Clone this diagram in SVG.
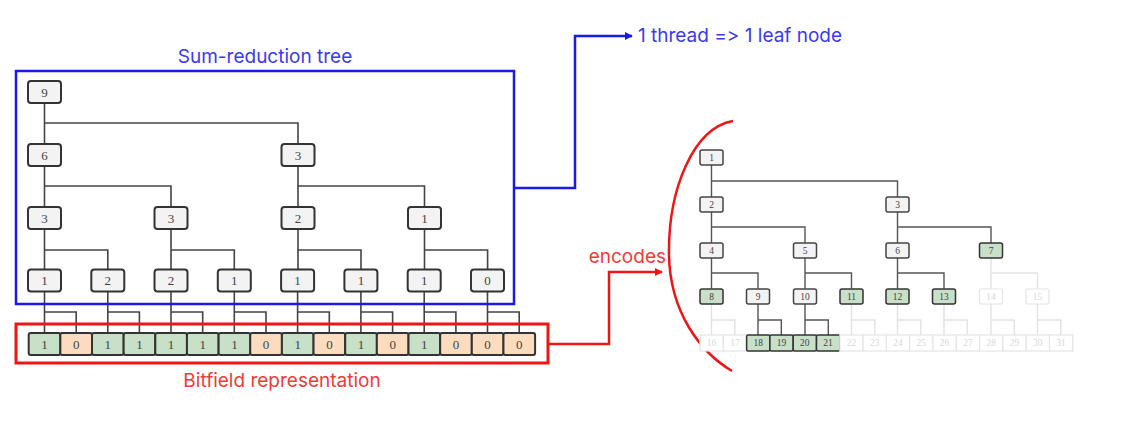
<svg xmlns="http://www.w3.org/2000/svg" width="1121" height="427" viewBox="0 0 1121 427">
<style>
.bg{fill:#fff}
.ln{stroke:#444;stroke-width:1.6;fill:none}
.lnr{stroke:#555;stroke-width:1.4;fill:none}
.fd{stroke:#e2e2e2;stroke-width:1.4;fill:none}
.n{fill:#f3f3f3;stroke:#333;stroke-width:2}
.g{fill:#c8dfc8;stroke:#333;stroke-width:2}
.o{fill:#fcdcbf;stroke:#333;stroke-width:2}
.sn{fill:#f3f3f3;stroke:#444;stroke-width:1.5}
.sg{fill:#c8dfc8;stroke:#333;stroke-width:1.5}
.sf{fill:#fff;stroke:#e4e4e4;stroke-width:1.2}
.t{font-family:"Liberation Serif","DejaVu Serif",serif;font-size:13px;fill:#444;text-anchor:middle;dominant-baseline:central}
.ts{font-family:"Liberation Serif","DejaVu Serif",serif;font-size:9.5px;fill:#444;text-anchor:middle;dominant-baseline:central}
.tf{font-family:"Liberation Serif","DejaVu Serif",serif;font-size:9.5px;fill:#d8d8d8;text-anchor:middle;dominant-baseline:central}
.lab{font-family:Inter,"Liberation Sans",sans-serif;font-size:19px;font-variant-ligatures:none;font-feature-settings:"calt" 0,"liga" 0}
</style>
<defs>
<marker id="ab" viewBox="0 0 10 10" refX="9" refY="5" markerWidth="3.2" markerHeight="3.2" orient="auto" markerUnits="strokeWidth"><path d="M0,0 L10,5 L0,10 z" fill="#1a1ae6"/></marker>
<marker id="ar" viewBox="0 0 10 10" refX="9" refY="5" markerWidth="3.2" markerHeight="3.2" orient="auto" markerUnits="strokeWidth"><path d="M0,0 L10,5 L0,10 z" fill="#f01515"/></marker>
</defs>
<rect class="bg" width="1121" height="427"/>

<g id="connectors">
<path class="ln" d="M44.5,103V144 M44.5,123H298V144"/>
<path class="ln" d="M44.5,166V207 M44.5,186H171V207 M298,166V207 M298,186H424.5V207"/>
<path class="ln" d="M44.5,229V269.5 M44.5,250H107.8V269.5 M171,229V269.5 M171,250H234.3V269.5 M298,229V269.5 M298,250H361V269.5 M424.5,229V269.5 M424.5,250H487.6V269.5"/>
<path class="ln" d="M44.5,291.5V333 M44.5,312H76.2V333 M107.8,291.5V333 M107.8,312H139.4V333 M171,291.5V333 M171,312H202.7V333 M234.3,291.5V333 M234.3,312H266V333 M297.6,291.5V333 M297.6,312H329.3V333 M360.9,291.5V333 M360.9,312H392.6V333 M424.2,291.5V333 M424.2,312H455.9V333 M487.5,291.5V333 M487.5,312H519.2V333"/>
<path class="lnr" d="M711.5,165V197 M711.5,181H897.5V197"/>
<path class="lnr" d="M711.5,212V243 M711.5,227H805V243 M897.5,212V243 M897.5,227H991V243"/>
<path class="lnr" d="M711.5,258V288.5 M805,258V288.5 M805,273H851.5V288.5 M897.5,258V288.5 M897.5,273H944V288.5 M711.5,273H758V288.5"/>
<path class="fd" d="M991,258V288.5 M991,273H1037.5V288.5"/>
<path class="fd" d="M711.5,304V335 M711.5,320H734.8V335 M851.5,304V335 M851.5,320H874.8V335 M897.5,304V335 M897.5,320H920.8V335 M944,304V335 M944,320H967.3V335 M991,304V335 M991,320H1014.3V335 M1037.5,304V335 M1037.5,320H1060.8V335"/>
<path class="lnr" d="M758,304V335 M758,320H781.3V335 M805,304V335 M805,320H828.3V335"/>
<polyline points="514,188 575,188 575,36 632,36" fill="none" stroke="#1a1ae6" stroke-width="2.5" marker-end="url(#ab)"/>
<polyline points="548,344 609,344 609,272 662,272" fill="none" stroke="#f01515" stroke-width="2.5" marker-end="url(#ar)"/>
<path d="M733,121 C693,128 668,190 669,255 C670,312 700,352 732,371" fill="none" stroke="#f01515" stroke-width="2.5"/>
</g>

<g id="sum-reduction-frame">
<rect x="16" y="71" width="498" height="233" fill="none" stroke="#1a1ae6" stroke-width="2.5"/>
<text class="lab" x="265" y="63" text-anchor="middle" fill="#3a3aee">Sum-reduction tree</text>
</g>
<g id="bitfield-frame">
<rect x="16" y="324" width="532" height="39" fill="none" stroke="#f01515" stroke-width="3"/>
<text class="lab" x="282" y="387" text-anchor="middle" fill="#f03a3a">Bitfield representation</text>
</g>
<g id="thread-label"><text class="lab" x="638" y="42" fill="#3a3aee">1 thread =&gt; 1 leaf node</text></g>
<g id="encodes-label"><text class="lab" x="666" y="263" text-anchor="end" fill="#f03a3a">encodes</text></g>

<g id="L0"><rect class="n" x="28" y="81" width="33" height="22" rx="3"/><text class="t" x="44.5" y="92">9</text></g>
<g id="L1a"><rect class="n" x="28" y="144" width="33" height="22" rx="3"/><text class="t" x="44.5" y="155">6</text></g>
<g id="L1b"><rect class="n" x="281.5" y="144" width="33" height="22" rx="3"/><text class="t" x="298" y="155">3</text></g>
<g id="L2a"><rect class="n" x="28" y="207" width="33" height="22" rx="3"/><text class="t" x="44.5" y="218">3</text></g>
<g id="L2b"><rect class="n" x="154.5" y="207" width="33" height="22" rx="3"/><text class="t" x="171" y="218">3</text></g>
<g id="L2c"><rect class="n" x="281.5" y="207" width="33" height="22" rx="3"/><text class="t" x="298" y="218">2</text></g>
<g id="L2d"><rect class="n" x="408" y="207" width="33" height="22" rx="3"/><text class="t" x="424.5" y="218">1</text></g>
<g id="L3a"><rect class="n" x="28" y="269.5" width="33" height="22" rx="3"/><text class="t" x="44.5" y="280.5">1</text></g>
<g id="L3b"><rect class="n" x="91.3" y="269.5" width="33" height="22" rx="3"/><text class="t" x="107.8" y="280.5">2</text></g>
<g id="L3c"><rect class="n" x="154.5" y="269.5" width="33" height="22" rx="3"/><text class="t" x="171" y="280.5">2</text></g>
<g id="L3d"><rect class="n" x="217.8" y="269.5" width="33" height="22" rx="3"/><text class="t" x="234.3" y="280.5">1</text></g>
<g id="L3e"><rect class="n" x="281.1" y="269.5" width="33" height="22" rx="3"/><text class="t" x="297.6" y="280.5">1</text></g>
<g id="L3f"><rect class="n" x="344.4" y="269.5" width="33" height="22" rx="3"/><text class="t" x="360.9" y="280.5">1</text></g>
<g id="L3g"><rect class="n" x="407.7" y="269.5" width="33" height="22" rx="3"/><text class="t" x="424.2" y="280.5">1</text></g>
<g id="L3h"><rect class="n" x="471" y="269.5" width="33" height="22" rx="3"/><text class="t" x="487.5" y="280.5">0</text></g>

<g id="bits">
<rect class="g" x="28.7" y="333" width="31.65" height="22" rx="2"/><text class="t" x="44.5" y="344">1</text>
<rect class="o" x="60.35" y="333" width="31.65" height="22" rx="2"/><text class="t" x="76.2" y="344">0</text>
<rect class="g" x="92" y="333" width="31.65" height="22" rx="2"/><text class="t" x="107.8" y="344">1</text>
<rect class="g" x="123.65" y="333" width="31.65" height="22" rx="2"/><text class="t" x="139.5" y="344">1</text>
<rect class="g" x="155.3" y="333" width="31.65" height="22" rx="2"/><text class="t" x="171.1" y="344">1</text>
<rect class="g" x="186.95" y="333" width="31.65" height="22" rx="2"/><text class="t" x="202.8" y="344">1</text>
<rect class="g" x="218.6" y="333" width="31.65" height="22" rx="2"/><text class="t" x="234.4" y="344">1</text>
<rect class="o" x="250.25" y="333" width="31.65" height="22" rx="2"/><text class="t" x="266.1" y="344">0</text>
<rect class="g" x="281.9" y="333" width="31.65" height="22" rx="2"/><text class="t" x="297.7" y="344">1</text>
<rect class="o" x="313.55" y="333" width="31.65" height="22" rx="2"/><text class="t" x="329.4" y="344">0</text>
<rect class="g" x="345.2" y="333" width="31.65" height="22" rx="2"/><text class="t" x="361" y="344">1</text>
<rect class="o" x="376.85" y="333" width="31.65" height="22" rx="2"/><text class="t" x="392.7" y="344">0</text>
<rect class="g" x="408.5" y="333" width="31.65" height="22" rx="2"/><text class="t" x="424.3" y="344">1</text>
<rect class="o" x="440.15" y="333" width="31.65" height="22" rx="2"/><text class="t" x="456" y="344">0</text>
<rect class="o" x="471.8" y="333" width="31.65" height="22" rx="2"/><text class="t" x="487.6" y="344">0</text>
<rect class="o" x="503.45" y="333" width="31.65" height="22" rx="2"/><text class="t" x="519.3" y="344">0</text>
</g>

<g id="R1"><rect class="sn" x="700" y="150" width="23" height="15" rx="2"/><text class="ts" x="711.5" y="157.5">1</text></g>
<g id="R2"><rect class="sn" x="700" y="197" width="23" height="15" rx="2"/><text class="ts" x="711.5" y="204.5">2</text></g>
<g id="R3"><rect class="sn" x="886" y="197" width="23" height="15" rx="2"/><text class="ts" x="897.5" y="204.5">3</text></g>
<g id="R4"><rect class="sn" x="700" y="243" width="23" height="15" rx="2"/><text class="ts" x="711.5" y="250.5">4</text></g>
<g id="R5"><rect class="sn" x="793.5" y="243" width="23" height="15" rx="2"/><text class="ts" x="805" y="250.5">5</text></g>
<g id="R6"><rect class="sn" x="886" y="243" width="23" height="15" rx="2"/><text class="ts" x="897.5" y="250.5">6</text></g>
<g id="R7"><rect class="sg" x="979.5" y="243" width="23" height="15" rx="2"/><text class="ts" x="991" y="250.5">7</text></g>
<g id="R8"><rect class="sg" x="700" y="289" width="23" height="15" rx="2"/><text class="ts" x="711.5" y="296.5">8</text></g>
<g id="R9"><rect class="sn" x="746.5" y="289" width="23" height="15" rx="2"/><text class="ts" x="758" y="296.5">9</text></g>
<g id="R10"><rect class="sn" x="793.5" y="289" width="23" height="15" rx="2"/><text class="ts" x="805" y="296.5">10</text></g>
<g id="R11"><rect class="sg" x="840" y="289" width="23" height="15" rx="2"/><text class="ts" x="851.5" y="296.5">11</text></g>
<g id="R12"><rect class="sg" x="886" y="289" width="23" height="15" rx="2"/><text class="ts" x="897.5" y="296.5">12</text></g>
<g id="R13"><rect class="sg" x="932.5" y="289" width="23" height="15" rx="2"/><text class="ts" x="944" y="296.5">13</text></g>
<g id="R14"><rect class="sf" x="979.5" y="289" width="23" height="15" rx="2"/><text class="tf" x="991" y="296.5">14</text></g>
<g id="R15"><rect class="sf" x="1026" y="289" width="23" height="15" rx="2"/><text class="tf" x="1037.5" y="296.5">15</text></g>

<g id="R-leaves">
<rect class="sf" x="700" y="335" width="23.3" height="16"/><text class="tf" x="711.6" y="343">16</text>
<rect class="sf" x="723.3" y="335" width="23.3" height="16"/><text class="tf" x="734.9" y="343">17</text>
<rect class="sg" x="746.6" y="335" width="23.3" height="16" rx="1.5"/><text class="ts" x="758.2" y="343">18</text>
<rect class="sg" x="769.9" y="335" width="23.3" height="16" rx="1.5"/><text class="ts" x="781.5" y="343">19</text>
<rect class="sg" x="793.2" y="335" width="23.3" height="16" rx="1.5"/><text class="ts" x="804.8" y="343">20</text>
<rect class="sg" x="816.5" y="335" width="23.3" height="16" rx="1.5"/><text class="ts" x="828.1" y="343">21</text>
<rect class="sf" x="839.8" y="335" width="23.3" height="16"/><text class="tf" x="851.4" y="343">22</text>
<rect class="sf" x="863.1" y="335" width="23.3" height="16"/><text class="tf" x="874.7" y="343">23</text>
<rect class="sf" x="886.4" y="335" width="23.3" height="16"/><text class="tf" x="898" y="343">24</text>
<rect class="sf" x="909.7" y="335" width="23.3" height="16"/><text class="tf" x="921.3" y="343">25</text>
<rect class="sf" x="933" y="335" width="23.3" height="16"/><text class="tf" x="944.6" y="343">26</text>
<rect class="sf" x="956.3" y="335" width="23.3" height="16"/><text class="tf" x="967.9" y="343">27</text>
<rect class="sf" x="979.6" y="335" width="23.3" height="16"/><text class="tf" x="991.2" y="343">28</text>
<rect class="sf" x="1002.9" y="335" width="23.3" height="16"/><text class="tf" x="1014.5" y="343">29</text>
<rect class="sf" x="1026.2" y="335" width="23.3" height="16"/><text class="tf" x="1037.8" y="343">30</text>
<rect class="sf" x="1049.5" y="335" width="23.3" height="16"/><text class="tf" x="1061.1" y="343">31</text>
</g>
</svg>
